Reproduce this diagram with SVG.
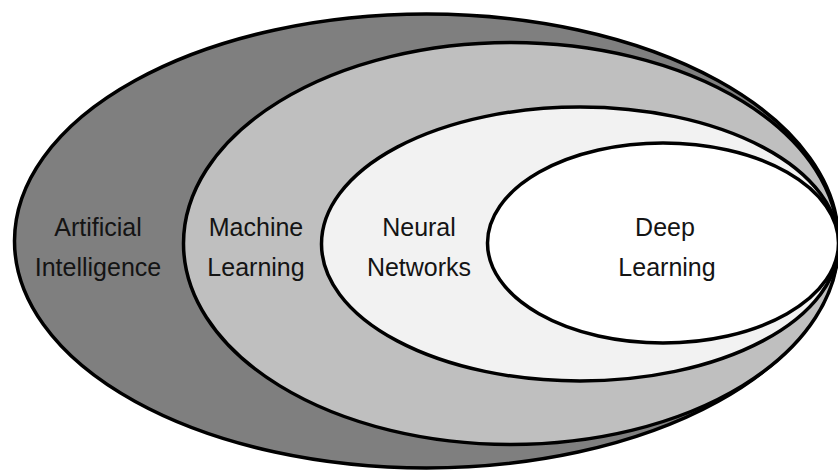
<svg xmlns="http://www.w3.org/2000/svg" width="838" height="473" viewBox="0 0 838 473">
  <style>
    .ring { stroke: #000; stroke-width: 3.5; }
    .lbl { font-family: "Liberation Sans", Arial, sans-serif; font-size: 25px; fill: #141414; text-anchor: middle; }
  </style>
  <rect width="838" height="473" fill="#fff"/>
  <g id="artificial-intelligence">
    <ellipse class="ring" cx="426.5" cy="241" rx="412" ry="227" fill="#7f7f7f"/>
    <text class="lbl" x="98" y="236">Artificial</text>
    <text class="lbl" x="98" y="276">Intelligence</text>
  </g>
  <g id="machine-learning">
    <ellipse class="ring" cx="511" cy="243.5" rx="327.5" ry="201" fill="#bfbfbf"/>
    <text class="lbl" x="256" y="236">Machine</text>
    <text class="lbl" x="256" y="276">Learning</text>
  </g>
  <g id="neural-networks">
    <ellipse class="ring" cx="580" cy="244" rx="258.5" ry="137" fill="#f2f2f2"/>
    <text class="lbl" x="419" y="236">Neural</text>
    <text class="lbl" x="419" y="276">Networks</text>
  </g>
  <g id="deep-learning">
    <ellipse class="ring" cx="663" cy="243" rx="175.5" ry="100" fill="#fff"/>
    <text class="lbl" x="665" y="236">Deep</text>
    <text class="lbl" x="667" y="276">Learning</text>
  </g>
  <g id="connectors"/>
</svg>
